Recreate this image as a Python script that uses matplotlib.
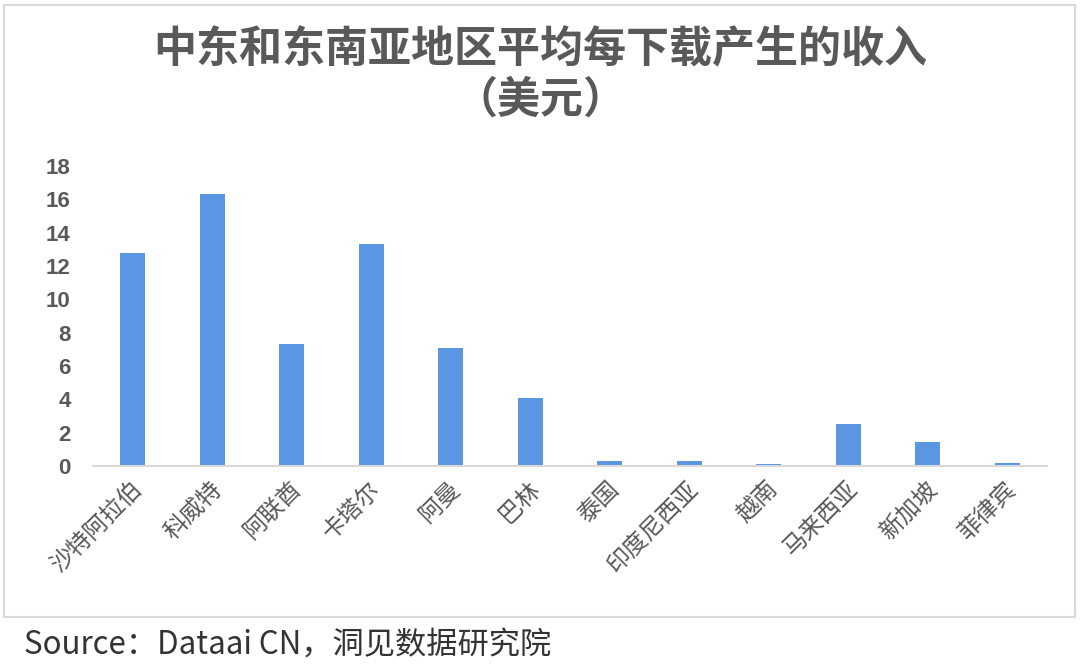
import matplotlib
matplotlib.use("Agg")
import matplotlib.pyplot as plt
from matplotlib.patches import Rectangle
from matplotlib.transforms import ScaledTranslation

plt.rcParams['font.family'] = ['Noto Sans CJK SC', 'DejaVu Sans']

categories = ["沙特阿拉伯", "科威特", "阿联酋", "卡塔尔", "阿曼", "巴林",
              "泰国", "印度尼西亚", "越南", "马来西亚", "新加坡", "菲律宾"]
values = [12.8, 16.3, 7.3, 13.3, 7.1, 4.1, 0.3, 0.3, 0.1, 2.5, 1.45, 0.2]
yticks = [0, 2, 4, 6, 8, 10, 12, 14, 16, 18]
title_line1 = "中东和东南亚地区平均每下载产生的收入"
title_line2 = "（美元）"
source_text = "Source：Dataai CN，洞见数据研究院"

W, H = 1080, 665
fig = plt.figure(figsize=(W / 100, H / 100), dpi=100)
fig.patch.set_facecolor("white")

# outer border
fig.patches.append(Rectangle((4 / W, 1 - 617 / H), (1075 - 4) / W, (617 - 5) / H,
                             transform=fig.transFigure, fill=False,
                             edgecolor="#D9D9D9", linewidth=1.5))

ax = fig.add_axes([93 / W, 1 - 466 / H, (1047 - 93) / W, (466 - 166) / H])
x = list(range(len(categories)))
ax.bar(x, values, width=0.315, color="#5B96E2", zorder=2)
ax.set_xlim(-0.5, len(categories) - 0.5)
ax.set_ylim(0, 18)

for s in ["top", "right", "left"]:
    ax.spines[s].set_visible(False)
ax.spines["bottom"].set_color("#D9D9D9")
ax.spines["bottom"].set_linewidth(1.5)

ax.set_yticks(yticks)
ax.set_yticklabels([str(v) for v in yticks], fontfamily="Liberation Sans",
                   fontsize=16, fontweight="bold", color="#595959")
ax.tick_params(axis="y", length=0, pad=16)
ax.set_xticks(x)
ax.set_xticklabels(categories, rotation=45, ha="right", va="center",
                   rotation_mode="anchor", fontsize=17, color="#595959")
ax.tick_params(axis="x", length=0, pad=14)
offset = ScaledTranslation(6 / 100, 0, fig.dpi_scale_trans)
for lab in ax.get_xticklabels():
    lab.set_transform(lab.get_transform() + offset)

fig.text(0.5, 1 - 49 / H, title_line1, ha="center", va="center",
         fontsize=31, fontweight="bold", color="#595959")
fig.text(0.5, 1 - 100 / H, title_line2, ha="center", va="center",
         fontsize=31, fontweight="bold", color="#595959")

fig.text(24 / W, 1 - 645 / H, source_text, ha="left", va="center",
         fontsize=22.5, color="#333333", fontweight="light")

fig.savefig("out.png", dpi=100, facecolor="white")
